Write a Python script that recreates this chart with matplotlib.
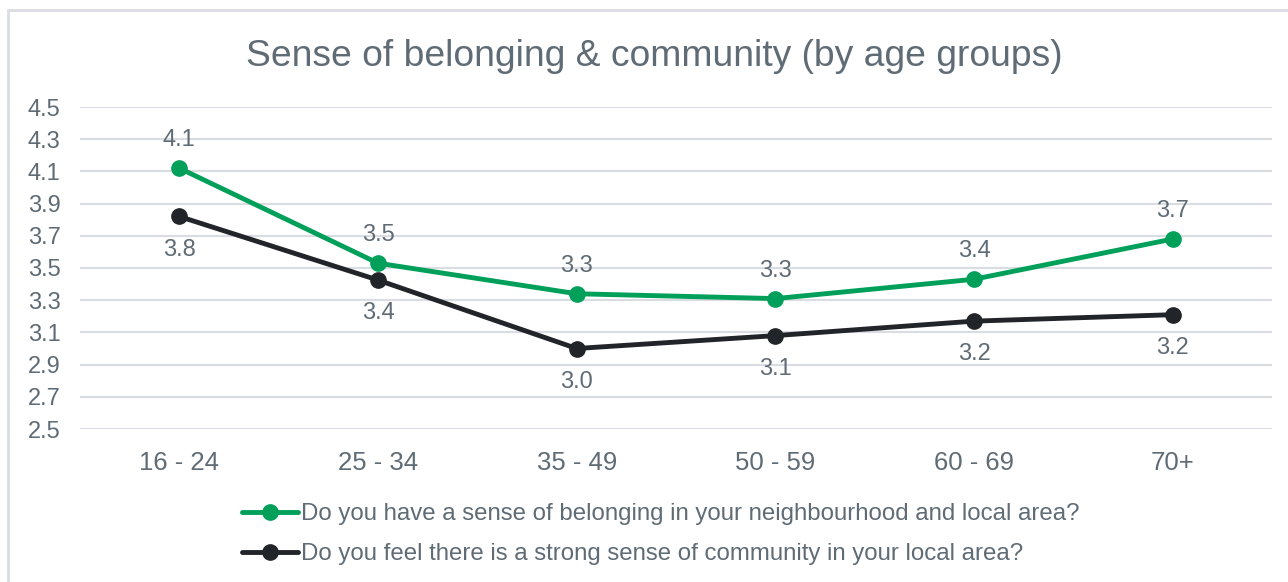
import matplotlib.pyplot as plt
from matplotlib.patches import Rectangle

# Age groups and mean scores for the two survey questions
age_groups = ['16 - 24', '25 - 34', '35 - 49', '50 - 59', '60 - 69', '70+']
belonging = [4.12, 3.53, 3.34, 3.31, 3.43, 3.68]
community = [3.82, 3.425, 3.0, 3.08, 3.17, 3.21]
y_ticks = [2.5, 2.7, 2.9, 3.1, 3.3, 3.5, 3.7, 3.9, 4.1, 4.3, 4.5]

series_names = [
    'Do you have a sense of belonging in your neighbourhood and local area?',
    'Do you feel there is a strong sense of community in your local area?',
]

GREEN = '#00a05a'
DARK = '#212529'
TEXT = '#5f6b75'
GRID = '#d9dde1'

plt.rcParams['font.family'] = ['Liberation Sans', 'DejaVu Sans']

fig = plt.figure(figsize=(12.88, 5.82), dpi=100)
fig.patches.append(Rectangle((8 / 1288, -0.05), 1.1, 1 - 10 / 582 + 0.05,
                             transform=fig.transFigure, fill=False,
                             edgecolor=GRID, linewidth=2))

ax = fig.add_axes([80 / 1288, 1 - 429 / 582, (1272 - 80) / 1288, (429 - 107) / 582])
x = list(range(len(age_groups)))

ax.plot(x, belonging, color=GREEN, lw=3.5, marker='o', ms=11,
        label=series_names[0], solid_capstyle='round', zorder=3)
ax.plot(x, community, color=DARK, lw=3.5, marker='o', ms=11,
        label=series_names[1], solid_capstyle='round', zorder=3)

for xi, v in zip(x, belonging):
    ax.annotate(f'{v:.1f}', (xi, v), xytext=(0, 20), textcoords='offset points',
                ha='center', va='center', fontsize=17, color=TEXT)
for xi, v in zip(x, community):
    ax.annotate(f'{v:.1f}', (xi, v), xytext=(0, -24), textcoords='offset points',
                ha='center', va='center', fontsize=17, color=TEXT)

ax.set_xlim(-0.5, 5.5)
ax.set_ylim(2.5, 4.5)
ax.set_yticks(y_ticks)
ax.set_yticklabels([f'{t:.1f}' for t in y_ticks])
ax.set_xticks(x)
ax.set_xticklabels(age_groups)
ax.grid(axis='y', color=GRID, lw=1.5)
ax.set_axisbelow(True)
for s in ax.spines.values():
    s.set_visible(False)
ax.tick_params(axis='y', length=0, pad=14, labelsize=17, labelcolor=TEXT)
ax.tick_params(axis='x', length=0, pad=16, labelsize=18.5, labelcolor=TEXT)

fig.text(654 / 1288, 1 - 57 / 582, 'Sense of belonging & community (by age groups)',
         ha='center', va='center', fontsize=26.8, color=TEXT)

fig.legend(loc='center', bbox_to_anchor=(0.513, 1 - 534 / 582), ncol=1,
           frameon=False, fontsize=17.3, labelcolor=TEXT, handlelength=2.3,
           handletextpad=0.12, labelspacing=0.75)

fig.savefig('out.png', dpi=100)
